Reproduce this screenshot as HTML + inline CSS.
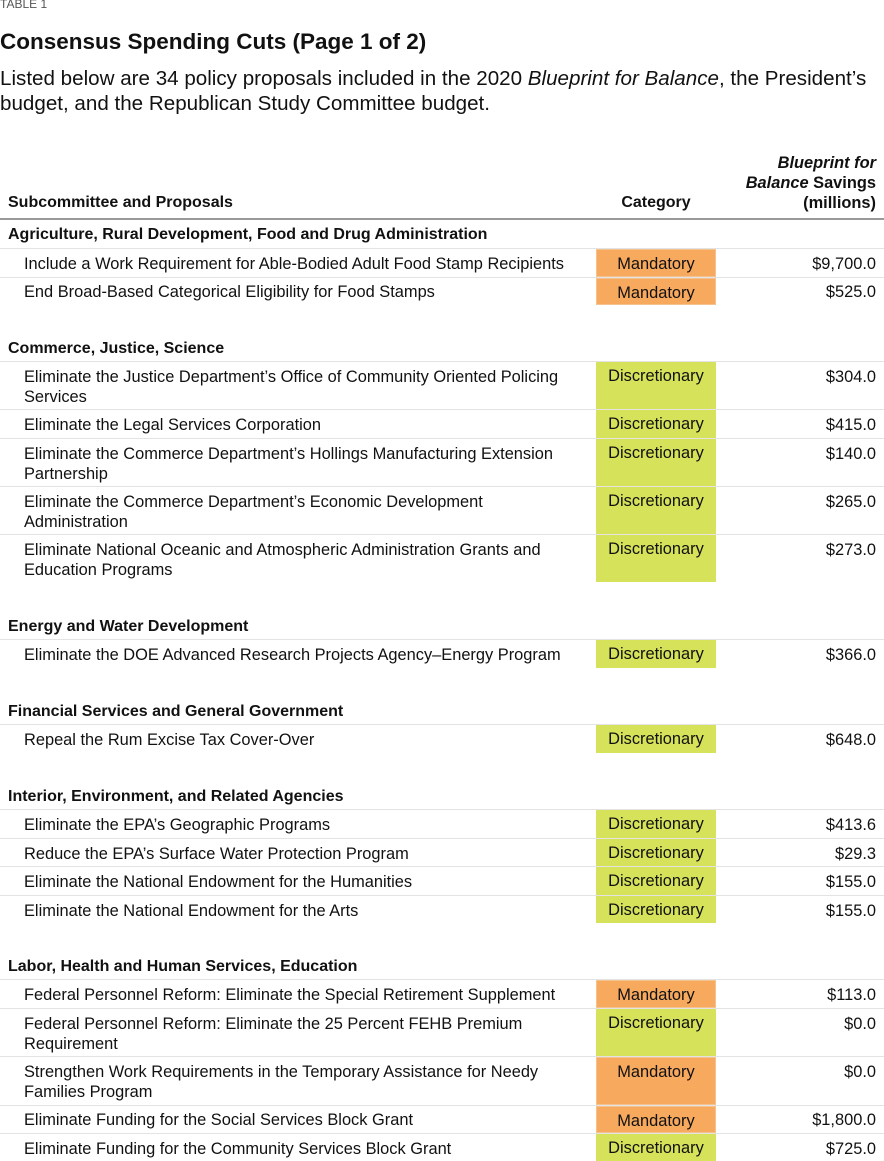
<!DOCTYPE html>
<html><head><meta charset="utf-8"><style>
body{margin:0;width:884px;height:1161px;background:#fff;position:relative;overflow:hidden;font-family:"Liberation Sans",sans-serif;color:#111}
div{position:absolute;white-space:nowrap}
.t{font-size:16.4px;line-height:20px;left:24px;margin-top:1px}
.s{font-size:16px;line-height:20px;left:8px;font-weight:bold;margin-top:1px}
.a{font-size:16.4px;line-height:20px;right:8px;text-align:right;margin-top:1px}
.l{left:0;width:884px;height:1px;background:#e3e3e3}
.b{left:596px;width:120px;font-size:16.4px;line-height:20px;text-align:center;padding-top:4px;box-sizing:border-box}
.m{background:#f7a95e;border:1px solid #f4c28e}
.d{background:#d5e25a}
</style></head><body>
<div style="top:-3px;left:0;font-size:12px;color:#555">TABLE 1</div>
<div style="top:29px;left:0;font-size:22.5px;font-weight:bold">Consensus Spending Cuts (Page 1 of 2)</div>
<div style="top:66px;left:0;font-size:20.6px;line-height:25px">Listed below are 34 policy proposals included in the 2020 <i>Blueprint for Balance</i>, the President’s<br>budget, and the Republican Study Committee budget.</div>
<div class="a" style="top:152px;font-weight:bold"><i>Blueprint for</i></div>
<div class="a" style="top:172px;font-weight:bold"><i>Balance</i> Savings</div>
<div class="a" style="top:192px;font-weight:bold">(millions)</div>
<div class="s" style="top:192px">Subcommittee and Proposals</div>
<div style="top:193px;left:596px;width:120px;text-align:center;font-weight:bold;font-size:16px;line-height:20px">Category</div>
<div class="l" style="top:218px;height:2px;background:#999"></div>

<div class="s" style="top:224px">Agriculture, Rural Development, Food and Drug Administration</div>
<div class="l" style="top:248px"></div>
<div class="b m" style="top:249px;height:28px">Mandatory</div>
<div class="t" style="top:253px">Include a Work Requirement for Able-Bodied Adult Food Stamp Recipients</div><div class="a" style="top:253px">$9,700.0</div>
<div class="l" style="top:277px"></div>
<div class="b m" style="top:278px;height:27px">Mandatory</div>
<div class="t" style="top:281px">End Broad-Based Categorical Eligibility for Food Stamps</div><div class="a" style="top:281px">$525.0</div>

<div class="s" style="top:338px">Commerce, Justice, Science</div>
<div class="l" style="top:361px"></div>
<div class="b d" style="top:362px;height:47px">Discretionary</div>
<div class="t" style="top:366px">Eliminate the Justice Department’s Office of Community Oriented Policing<br>Services</div><div class="a" style="top:366px">$304.0</div>
<div class="l" style="top:409px"></div>
<div class="b d" style="top:410px;height:28px">Discretionary</div>
<div class="t" style="top:414px">Eliminate the Legal Services Corporation</div><div class="a" style="top:414px">$415.0</div>
<div class="l" style="top:438px"></div>
<div class="b d" style="top:439px;height:47px">Discretionary</div>
<div class="t" style="top:443px">Eliminate the Commerce Department’s Hollings Manufacturing Extension<br>Partnership</div><div class="a" style="top:443px">$140.0</div>
<div class="l" style="top:486px"></div>
<div class="b d" style="top:487px;height:47px">Discretionary</div>
<div class="t" style="top:491px">Eliminate the Commerce Department’s Economic Development<br>Administration</div><div class="a" style="top:491px">$265.0</div>
<div class="l" style="top:534px"></div>
<div class="b d" style="top:535px;height:47px">Discretionary</div>
<div class="t" style="top:539px">Eliminate National Oceanic and Atmospheric Administration Grants and<br>Education Programs</div><div class="a" style="top:539px">$273.0</div>

<div class="s" style="top:616px">Energy and Water Development</div>
<div class="l" style="top:639px"></div>
<div class="b d" style="top:640px;height:28px">Discretionary</div>
<div class="t" style="top:644px">Eliminate the DOE Advanced Research Projects Agency–Energy Program</div><div class="a" style="top:644px">$366.0</div>

<div class="s" style="top:701px">Financial Services and General Government</div>
<div class="l" style="top:724px"></div>
<div class="b d" style="top:725px;height:28px">Discretionary</div>
<div class="t" style="top:729px">Repeal the Rum Excise Tax Cover-Over</div><div class="a" style="top:729px">$648.0</div>

<div class="s" style="top:786px">Interior, Environment, and Related Agencies</div>
<div class="l" style="top:809px"></div>
<div class="b d" style="top:810px;height:28px">Discretionary</div>
<div class="t" style="top:814px">Eliminate the EPA’s Geographic Programs</div><div class="a" style="top:814px">$413.6</div>
<div class="l" style="top:838px"></div>
<div class="b d" style="top:839px;height:27px">Discretionary</div>
<div class="t" style="top:843px">Reduce the EPA’s Surface Water Protection Program</div><div class="a" style="top:843px">$29.3</div>
<div class="l" style="top:866px"></div>
<div class="b d" style="top:867px;height:28px">Discretionary</div>
<div class="t" style="top:871px">Eliminate the National Endowment for the Humanities</div><div class="a" style="top:871px">$155.0</div>
<div class="l" style="top:895px"></div>
<div class="b d" style="top:896px;height:27px">Discretionary</div>
<div class="t" style="top:900px">Eliminate the National Endowment for the Arts</div><div class="a" style="top:900px">$155.0</div>

<div class="s" style="top:956px">Labor, Health and Human Services, Education</div>
<div class="l" style="top:979px"></div>
<div class="b m" style="top:980px;height:28px">Mandatory</div>
<div class="t" style="top:984px">Federal Personnel Reform: Eliminate the Special Retirement Supplement</div><div class="a" style="top:984px">$113.0</div>
<div class="l" style="top:1008px"></div>
<div class="b d" style="top:1009px;height:47px">Discretionary</div>
<div class="t" style="top:1013px">Federal Personnel Reform: Eliminate the 25 Percent FEHB Premium<br>Requirement</div><div class="a" style="top:1013px">$0.0</div>
<div class="l" style="top:1056px"></div>
<div class="b m" style="top:1057px;height:48px">Mandatory</div>
<div class="t" style="top:1061px">Strengthen Work Requirements in the Temporary Assistance for Needy<br>Families Program</div><div class="a" style="top:1061px">$0.0</div>
<div class="l" style="top:1105px"></div>
<div class="b m" style="top:1106px;height:27px">Mandatory</div>
<div class="t" style="top:1109px">Eliminate Funding for the Social Services Block Grant</div><div class="a" style="top:1109px">$1,800.0</div>
<div class="l" style="top:1133px"></div>
<div class="b d" style="top:1134px;height:27px">Discretionary</div>
<div class="t" style="top:1138px">Eliminate Funding for the Community Services Block Grant</div><div class="a" style="top:1138px">$725.0</div>
</body></html>
